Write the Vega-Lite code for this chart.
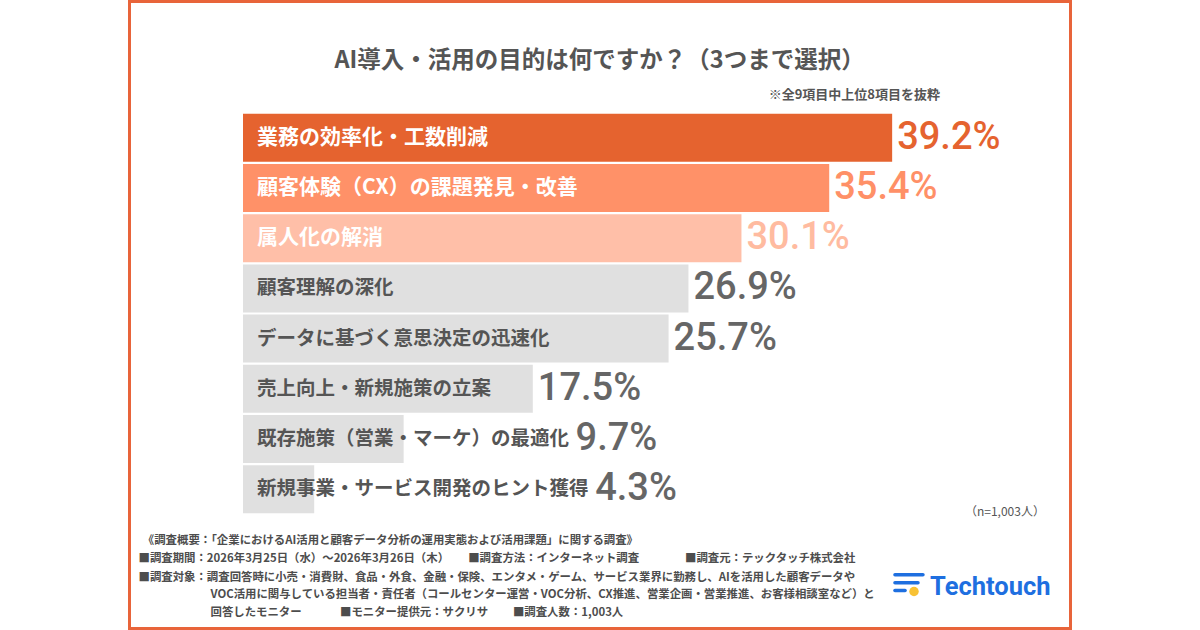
{
  "$schema": "https://vega.github.io/schema/vega-lite/v6.json",
  "width": 1200,
  "height": 630,
  "autosize": {"type": "fit", "contains": "padding"},
  "padding": {"left": 129.5, "right": 129.5, "top": 1.5, "bottom": 1.5},
  "background": "#ffffff",
  "config": {"view": {"stroke": "#E8643A", "strokeWidth": 3}, "font": "Noto Sans CJK JP"},
  "datasets": {
    "answers": [
      {"item": "業務の効率化・工数削減", "share": 0.392},
      {"item": "顧客体験（CX）の課題発見・改善", "share": 0.354},
      {"item": "属人化の解消", "share": 0.301},
      {"item": "顧客理解の深化", "share": 0.269},
      {"item": "データに基づく意思決定の迅速化", "share": 0.257},
      {"item": "売上向上・新規施策の立案", "share": 0.175},
      {"item": "既存施策（営業・マーケ）の最適化", "share": 0.097},
      {"item": "新規事業・サービス開発のヒント獲得", "share": 0.043}
    ]
  },
  "layer": [
    {
      "data": {"name": "answers"},
      "transform": [{"window": [{"op": "row_number", "as": "rank"}]}],
      "layer": [
        {
          "mark": {"type": "bar", "orient": "horizontal", "height": 48},
          "encoding": {
            "x": {"field": "share", "type": "quantitative", "scale": {"domain": [-0.06854, 0.4997], "nice": false, "zero": false}, "axis": null},
            "y": {"field": "rank", "type": "quantitative", "scale": {"domain": [-1.6176, 10.6765], "reverse": true, "nice": false, "zero": false}, "axis": null},
            "color": {"field": "item", "type": "nominal", "legend": null, "scale": {
              "domain": ["業務の効率化・工数削減", "顧客体験（CX）の課題発見・改善", "属人化の解消", "顧客理解の深化", "データに基づく意思決定の迅速化", "売上向上・新規施策の立案", "既存施策（営業・マーケ）の最適化", "新規事業・サービス開発のヒント獲得"],
              "range": ["#E5632F", "#FF9168", "#FFBFA8", "#E0E0E0", "#E0E0E0", "#E0E0E0", "#E0E0E0", "#E0E0E0"]}}
          }
        },
        {
          "transform": [{"filter": "datum.rank <= 3"}],
          "mark": {"type": "text", "align": "left", "baseline": "middle", "fontSize": 21, "fontWeight": "bold", "color": "#ffffff"},
          "encoding": {
            "x": {"datum": 0.00845},
            "y": {"field": "rank", "type": "quantitative"},
            "text": {"field": "item"}
          }
        },
        {
          "transform": [{"filter": "datum.rank > 3"}],
          "mark": {"type": "text", "align": "left", "baseline": "middle", "fontSize": 19.5, "fontWeight": "bold", "color": "#555555"},
          "encoding": {
            "x": {"datum": 0.00845},
            "y": {"field": "rank", "type": "quantitative"},
            "text": {"field": "item"}
          }
        },
        {
          "mark": {"type": "text", "align": "left", "baseline": "middle", "font": "Roboto", "fontSize": 38, "fontWeight": 500,
            "dx": {"expr": "max(5, 14 + length(datum.item) * 19.6 + 5 - (scale('x', datum.share) - scale('x', 0)))"}},
          "encoding": {
            "x": {"field": "share", "type": "quantitative"},
            "y": {"field": "rank", "type": "quantitative"},
            "text": {"field": "share", "type": "quantitative", "format": ".1%"},
            "color": {"condition": [
              {"test": "datum.rank == 1", "value": "#E5632F"},
              {"test": "datum.rank == 2", "value": "#FF9067"},
              {"test": "datum.rank == 3", "value": "#FFBBA0"}], "value": "#666666"}
          }
        }
      ]
    },
    {
      "data": {"values": [{}]},
      "mark": {"type": "text", "align": "center", "baseline": "middle", "fontSize": 23.5, "fontWeight": "bold", "color": "#555555", "text": "AI導入・活用の目的は何ですか？（3つまで選択）"},
      "encoding": {"x": {"datum": 0.2153}, "y": {"datum": -0.529}}
    },
    {
      "data": {"values": [{}]},
      "mark": {"type": "text", "align": "right", "baseline": "middle", "fontSize": 13, "fontWeight": "bold", "color": "#555555", "text": "※全9項目中上位8項目を抜粋"},
      "encoding": {"x": {"datum": 0.4209}, "y": {"datum": 0.137}}
    },
    {
      "data": {"values": [{}]},
      "mark": {"type": "text", "align": "center", "baseline": "middle", "fontSize": 12, "color": "#555555", "text": "（n=1,003人）"},
      "encoding": {"x": {"datum": 0.4601}, "y": {"datum": 8.451}}
    },
    {
      "data": {"values": [{}]},
      "mark": {"type": "text", "align": "left", "baseline": "middle", "fontSize": 11.4, "fontWeight": "bold", "color": "#4d4d4d", "text": "《調査概要：「企業におけるAI活用と顧客データ分析の運用実態および活用課題」に関する調査》"},
      "encoding": {"x": {"datum": -0.0605}, "y": {"datum": 9.039}}
    },
    {
      "data": {"values": [{}]},
      "mark": {"type": "text", "align": "left", "baseline": "middle", "fontSize": 11.4, "fontWeight": "bold", "color": "#4d4d4d", "text": "■調査期間：2026年3月25日（水）～2026年3月26日（木）"},
      "encoding": {"x": {"datum": -0.0631}, "y": {"datum": 9.392}}
    },
    {
      "data": {"values": [{}]},
      "mark": {"type": "text", "align": "left", "baseline": "middle", "fontSize": 11.4, "fontWeight": "bold", "color": "#4d4d4d", "text": "■調査方法：インターネット調査"},
      "encoding": {"x": {"datum": 0.136}, "y": {"datum": 9.392}}
    },
    {
      "data": {"values": [{}]},
      "mark": {"type": "text", "align": "left", "baseline": "middle", "fontSize": 11.4, "fontWeight": "bold", "color": "#4d4d4d", "text": "■調査元：テックタッチ株式会社"},
      "encoding": {"x": {"datum": 0.2669}, "y": {"datum": 9.392}}
    },
    {
      "data": {"values": [{}]},
      "mark": {"type": "text", "align": "left", "baseline": "middle", "fontSize": 11.4, "fontWeight": "bold", "color": "#4d4d4d", "text": "■調査対象：調査回答時に小売・消費財、食品・外食、金融・保険、エンタメ・ゲーム、サービス業界に勤務し、AIを活用した顧客データや"},
      "encoding": {"x": {"datum": -0.0631}, "y": {"datum": 9.765}}
    },
    {
      "data": {"values": [{}]},
      "mark": {"type": "text", "align": "left", "baseline": "middle", "fontSize": 11.4, "fontWeight": "bold", "color": "#4d4d4d", "text": "VOC活用に関与している担当者・責任者（コールセンター運営・VOC分析、CX推進、営業企画・営業推進、お客様相談室など）と"},
      "encoding": {"x": {"datum": -0.01963}, "y": {"datum": 10.118}}
    },
    {
      "data": {"values": [{}]},
      "mark": {"type": "text", "align": "left", "baseline": "middle", "fontSize": 11.4, "fontWeight": "bold", "color": "#4d4d4d", "text": "回答したモニター"},
      "encoding": {"x": {"datum": -0.01963}, "y": {"datum": 10.471}}
    },
    {
      "data": {"values": [{}]},
      "mark": {"type": "text", "align": "left", "baseline": "middle", "fontSize": 11.4, "fontWeight": "bold", "color": "#4d4d4d", "text": "■モニター提供元：サクリサ"},
      "encoding": {"x": {"datum": 0.0586}, "y": {"datum": 10.471}}
    },
    {
      "data": {"values": [{}]},
      "mark": {"type": "text", "align": "left", "baseline": "middle", "fontSize": 11.4, "fontWeight": "bold", "color": "#4d4d4d", "text": "■調査人数：1,003人"},
      "encoding": {"x": {"datum": 0.163}, "y": {"datum": 10.471}}
    },
    {
      "data": {"values": [{}]},
      "mark": {"type": "rule", "color": "#1E6FE0", "strokeWidth": 3.5, "strokeCap": "round"},
      "encoding": {"x": {"datum": 0.3937}, "x2": {"datum": 0.4106}, "y": {"datum": 9.706}}
    },
    {
      "data": {"values": [{}]},
      "mark": {"type": "rule", "color": "#1E6FE0", "strokeWidth": 3.5, "strokeCap": "round"},
      "encoding": {"x": {"datum": 0.3937}, "x2": {"datum": 0.4076}, "y": {"datum": 9.863}}
    },
    {
      "data": {"values": [{}]},
      "mark": {"type": "rule", "color": "#1E6FE0", "strokeWidth": 3.5, "strokeCap": "round"},
      "encoding": {"x": {"datum": 0.3937}, "x2": {"datum": 0.3998}, "y": {"datum": 10.02}}
    },
    {
      "data": {"values": [{}]},
      "mark": {"type": "circle", "color": "#F8C235", "opacity": 1, "size": 90},
      "encoding": {"x": {"datum": 0.4052}, "y": {"datum": 10.039}}
    },
    {
      "data": {"values": [{}]},
      "mark": {"type": "text", "align": "left", "baseline": "middle", "font": "Roboto", "fontSize": 25.5, "fontWeight": "bold", "color": "#1E6FE0", "text": "Techtouch"},
      "encoding": {"x": {"datum": 0.4149}, "y": {"datum": 9.941}}
    }
  ]
}
